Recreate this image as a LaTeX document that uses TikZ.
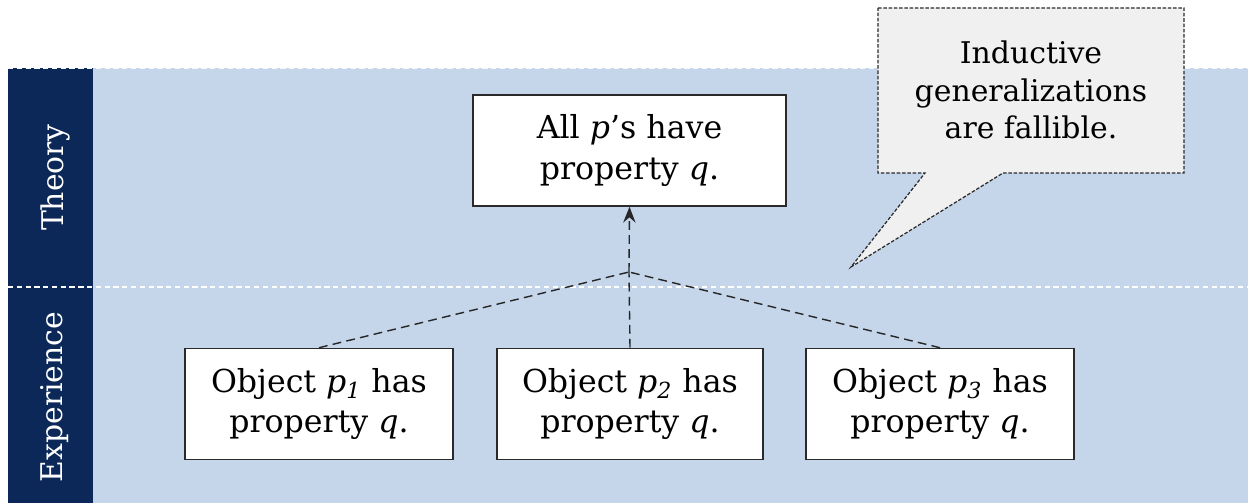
\documentclass[tikz,border=0pt]{standalone}
\usepackage{fontspec}
\setmainfont{DejaVu Serif}
\usetikzlibrary{arrows.meta}
\definecolor{navy}{HTML}{0B2858}
\definecolor{band}{HTML}{C5D6EB}
\definecolor{callfill}{HTML}{F0F0F0}
\definecolor{boxline}{HTML}{2A2A2A}
\tikzset{
  sbox/.style={draw=boxline, line width=0.9pt, fill=white, inner sep=0pt,
    minimum width=#1, minimum height=2.22cm, align=center,
    font=\fontsize{18}{23.3}\selectfont},
  sbox/.default=5.36cm,
  link/.style={draw=black!85, dashed, dash pattern=on 5pt off 3pt, line width=0.8pt},
  sidelab/.style={text=white, rotate=90, font=\fontsize{17}{20}\selectfont}
}
\begin{document}
\begin{tikzpicture}[x=0.02cm,y=-0.02cm]
\useasboundingbox (0,0) rectangle (1248,503);
\fill[white] (0,0) rectangle (1248,503);
% bands
\fill[band] (93,68) rectangle (1248,503);
\fill[navy] (8,68) rectangle (93,503);
\draw[white!85!band, dashed, dash pattern=on 3pt off 2pt, line width=0.5pt] (8,68) -- (1248,68);
\draw[white, dashed, dash pattern=on 3pt off 2pt, line width=0.6pt] (8,287) -- (1248,287);
\node[sidelab] (th) at (55,178) {Theory};
\node[sidelab] (ex) at (55,397) {Experience};
% boxes
\node[sbox=6.26cm] (top) at (629.5,150.5) {All \textit{p}’s have\\property \textit{q}.};
\node[sbox] (b1) at (319,404) {Object \textit{p}\textsubscript{\textit{1}} has\\property \textit{q}.};
\node[sbox=5.32cm] (b2) at (630,404) {Object \textit{p}\textsubscript{\textit{2}} has\\property \textit{q}.};
\node[sbox] (b3) at (940,404) {Object \textit{p}\textsubscript{\textit{3}} has\\property \textit{q}.};
\coordinate (j) at (629,272);
\draw[link] (b1.north) -- (j);
\draw[link] (b3.north) -- (j);
\draw[link] (b2.north) -- (j);
\draw[link, -{Stealth[length=9pt,width=7pt,inset=3pt]}] (j) -- (top.south);
% callout
\coordinate (tip) at (851,267);
\draw[boxline, fill=callfill, dashed, dash pattern=on 2pt off 1pt, line width=0.7pt]
  (878,8) -- (1184,8) -- (1184,173) -- (1003,173) -- (tip) -- (925,173) -- (878,173) -- cycle;
\node[align=center, font=\fontsize{17}{21.5}\selectfont, inner sep=0pt] (call) at (1031,90)
  {Inductive\\generalizations\\are fallible.};
\end{tikzpicture}
\end{document}
